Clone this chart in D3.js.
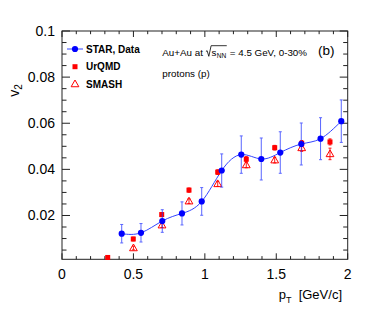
<!DOCTYPE html>
<html>
<head>
<meta charset="utf-8">
<script src="https://cdn.jsdelivr.net/npm/d3@7"></script>
<style>
  body { margin:0; background:#fff; }
  text { font-family: "Liberation Sans", Arial, Helvetica, sans-serif; }
</style>
</head>
<body>
<div class="container"></div>
<script>
// STAR data, protons 0-30%
var starPt  = [0.418, 0.553, 0.702, 0.840, 0.978, 1.118, 1.255, 1.395, 1.528, 1.675, 1.810, 1.955];
var starV2  = [0.0121, 0.0125, 0.0176, 0.0209, 0.0261, 0.0395, 0.0464, 0.0445, 0.0473, 0.0510, 0.0533, 0.0609];
var starErr = [0.0040, 0.0040, 0.0049, 0.0050, 0.0060, 0.0072, 0.0081, 0.0091, 0.0090, 0.0091, 0.0091, 0.0092];

var urqmdPt  = [0.320, 0.499, 0.698, 0.889, 1.090, 1.290, 1.489, 1.678, 1.876];
var urqmdV2  = [0.0018, 0.0098, 0.0204, 0.0310, 0.0388, 0.0444, 0.0494, 0.0513, 0.0519];
var urqmdErr = [0.0008, 0.0008, 0.0009, 0.0009, 0.0010, 0.0011, 0.0010, 0.0012, 0.0013];

var smashPt  = [0.500, 0.700, 0.889, 1.090, 1.290, 1.489, 1.678, 1.876];
var smashV2  = [0.0059, 0.0158, 0.0262, 0.0337, 0.0419, 0.0440, 0.0493, 0.0467];
var smashErr = [0.0008, 0.0010, 0.0010, 0.0011, 0.0012, 0.0012, 0.0015, 0.0025];

var xMajor = [0, 0.5, 1, 1.5, 2];
var yMajor = [0.02, 0.04, 0.06, 0.08, 0.1];
var yLabels = ["0.02", "0.04", "0.06", "0.08", "0.1"];

var width = 366, height = 309;
var margin = {left:62, right:18.3, top:31, bottom:49.7};
var blue = "#0000ff", red = "#ff0000";

var svg = d3.select(".container").append("svg")
    .attr("width", width).attr("height", height);

var x = d3.scaleLinear().domain([0, 2]).range([margin.left, width - margin.right]);
var y = d3.scaleLinear().domain([0.001, 0.1]).range([height - margin.bottom, margin.top]);

var x0 = x.range()[0], x1 = x.range()[1], y0 = y.range()[0], y1 = y.range()[1];

// frame
svg.append("rect").attr("x", x0).attr("y", y1).attr("width", x1 - x0).attr("height", y0 - y1)
    .attr("fill", "none").attr("stroke", "#222").attr("stroke-width", 1);

// x ticks (bottom + top)
var xMinor = d3.range(0, 21).map(function(i){ return i / 10; });
xMinor.forEach(function(v){
    var major = Math.abs(v * 2 - Math.round(v * 2)) < 1e-6;
    var len = major ? 6 : 3.2;
    svg.append("line").attr("x1", x(v)).attr("x2", x(v)).attr("y1", y0).attr("y2", y0 - len)
        .attr("stroke", "#222").attr("stroke-width", 1);
    svg.append("line").attr("x1", x(v)).attr("x2", x(v)).attr("y1", y1).attr("y2", y1 + len)
        .attr("stroke", "#222").attr("stroke-width", 1);
});
svg.selectAll(".xlab").data(xMajor).enter().append("text")
    .attr("class", "xlab")
    .attr("x", function(d){ return x(d); })
    .attr("y", 278.5)
    .attr("text-anchor", "middle")
    .attr("font-size", "14px")
    .text(function(d){ return d; });

// y ticks (left + right)
var yMinor = d3.range(1, 21).map(function(i){ return i * 0.005; });
yMinor.forEach(function(v){
    var major = (Math.round(v * 1000) % 20) === 0;
    var len = major ? 8 : 4.5;
    svg.append("line").attr("x1", x0).attr("x2", x0 + len).attr("y1", y(v)).attr("y2", y(v))
        .attr("stroke", "#222").attr("stroke-width", 1);
    svg.append("line").attr("x1", x1).attr("x2", x1 - len).attr("y1", y(v)).attr("y2", y(v))
        .attr("stroke", "#222").attr("stroke-width", 1);
});
svg.selectAll(".ylab").data(yMajor).enter().append("text")
    .attr("class", "ylab")
    .attr("x", 55)
    .attr("y", function(d){ return y(d) + 5; })
    .attr("text-anchor", "end")
    .attr("font-size", "14px")
    .text(function(d, i){ return yLabels[i]; });

// axis titles
var yt = svg.append("text")
    .attr("transform", "translate(18.5,90.5) rotate(-90)")
    .attr("text-anchor", "middle")
    .attr("font-size", "14px");
yt.append("tspan").text("v");
yt.append("tspan").attr("dy", 3.5).attr("font-size", "10px").text("2");

var xt = svg.append("text").attr("x", 342).attr("y", 299).attr("text-anchor", "end")
    .attr("font-size", "13px");
xt.append("tspan").text("p");
xt.append("tspan").attr("dy", 3.5).attr("font-size", "9px").text("T");
xt.append("tspan").attr("dy", -3.5).attr("xml:space", "preserve").text("  [GeV/c]");

// STAR smooth curve
var starData = starPt.map(function(p, i){ return {pt:p, v2:starV2[i], err:starErr[i]}; });
var line = d3.line().x(function(d){ return x(d.pt); }).y(function(d){ return y(d.v2); })
    .curve(d3.curveNatural);
svg.append("path").datum(starData).attr("d", line)
    .attr("fill", "none").attr("stroke", "#3344ff").attr("stroke-width", 1);

function errorBars(data, color, cap, opacity){
    var g = svg.append("g").attr("stroke", color).attr("stroke-width", 1).attr("opacity", opacity);
    data.forEach(function(d){
        var cx = x(d.pt);
        g.append("line").attr("x1", cx).attr("x2", cx).attr("y1", y(d.v2 - d.err)).attr("y2", y(d.v2 + d.err));
        g.append("line").attr("x1", cx - cap).attr("x2", cx + cap).attr("y1", y(d.v2 - d.err)).attr("y2", y(d.v2 - d.err));
        g.append("line").attr("x1", cx - cap).attr("x2", cx + cap).attr("y1", y(d.v2 + d.err)).attr("y2", y(d.v2 + d.err));
    });
}

var urqmdData = urqmdPt.map(function(p, i){ return {pt:p, v2:urqmdV2[i], err:urqmdErr[i]}; });
var smashData = smashPt.map(function(p, i){ return {pt:p, v2:smashV2[i], err:smashErr[i]}; });

// SMASH open triangles
errorBars(smashData, red, 1.5, 0.9);
var tri = d3.symbol().type(d3.symbolTriangle).size(26);
svg.selectAll(".smash").data(smashData).enter().append("path")
    .attr("class", "smash")
    .attr("d", tri)
    .attr("transform", function(d){ return "translate(" + x(d.pt) + "," + (y(d.v2) + 0.5) + ")"; })
    .attr("fill", "#fff").attr("fill-opacity", 0)
    .attr("stroke", red).attr("stroke-width", 1);

// UrQMD squares
errorBars(urqmdData, red, 1.5, 1);
svg.selectAll(".urqmd").data(urqmdData).enter().append("rect")
    .attr("class", "urqmd")
    .attr("x", function(d){ return x(d.pt) - 2.5; })
    .attr("y", function(d){ return y(d.v2) - 2.5; })
    .attr("width", 5).attr("height", 5)
    .attr("fill", red);

// STAR points
errorBars(starData, "#2233ff", 1.5, 0.75);
svg.selectAll(".star").data(starData).enter().append("circle")
    .attr("class", "star")
    .attr("cx", function(d){ return x(d.pt); })
    .attr("cy", function(d){ return y(d.v2); })
    .attr("r", 3.1)
    .attr("fill", blue);

// legend
svg.append("line").attr("x1", 67).attr("x2", 83).attr("y1", 49).attr("y2", 49)
    .attr("stroke", "#3344ff").attr("stroke-width", 1);
svg.append("circle").attr("cx", 75).attr("cy", 49).attr("r", 3.1).attr("fill", blue);
svg.append("rect").attr("x", 72.5).attr("y", 64.2).attr("width", 5).attr("height", 5).attr("fill", red);
svg.append("path").attr("d", tri).attr("transform", "translate(75,84.5)")
    .attr("fill", "none").attr("stroke", red).attr("stroke-width", 1);
var legNames = ["STAR, Data", "UrQMD", "SMASH"];
var legY = [52.6, 70.2, 87.8];
legNames.forEach(function(n, i){
    svg.append("text").attr("x", 86).attr("y", legY[i]).attr("font-size", "10px")
        .attr("font-weight", "bold").text(n);
});

// annotation with sqrt(s_NN)
var fs = 9.8, ax = 162.3, ay = 55.5;
var t1 = svg.append("text").attr("x", ax).attr("y", ay).attr("font-size", fs + "px")
    .attr("xml:space", "preserve").text("Au+Au at ");
var cx = ax + t1.node().getComputedTextLength();
var rootW = 5.5;
svg.append("path")
    .attr("d", "M" + (cx + 0.3) + "," + (ay - 4) + " L" + (cx + 1.5) + "," + (ay - 4.8) +
          " L" + (cx + 3.2) + "," + (ay + 0.8) + " L" + (cx + rootW) + "," + (ay - 9.8))
    .attr("fill", "none").attr("stroke", "#000").attr("stroke-width", 0.8);
var sx = cx + rootW + 0.5;
var ts = svg.append("text").attr("x", sx).attr("y", ay).attr("font-size", fs + "px").text("s");
var nx = sx + ts.node().getComputedTextLength() + 0.2;
var tn = svg.append("text").attr("x", nx).attr("y", ay + 2.2).attr("font-size", "6.6px").text("NN");
var ex = nx + tn.node().getComputedTextLength();
svg.append("line").attr("x1", cx + rootW).attr("x2", ex + 0.5).attr("y1", ay - 9.8).attr("y2", ay - 9.8)
    .attr("stroke", "#000").attr("stroke-width", 0.8);
svg.append("text").attr("x", ex + 0.8).attr("y", ay).attr("font-size", fs + "px")
    .attr("xml:space", "preserve").text(" = 4.5 GeV, 0-30%");
svg.append("text").attr("x", 318).attr("y", 54.8).attr("font-size", "13.5px").text("(b)");
svg.append("text").attr("x", 162.3).attr("y", 76.8).attr("font-size", fs + "px").text("protons (p)");
</script>
</body>
</html>
